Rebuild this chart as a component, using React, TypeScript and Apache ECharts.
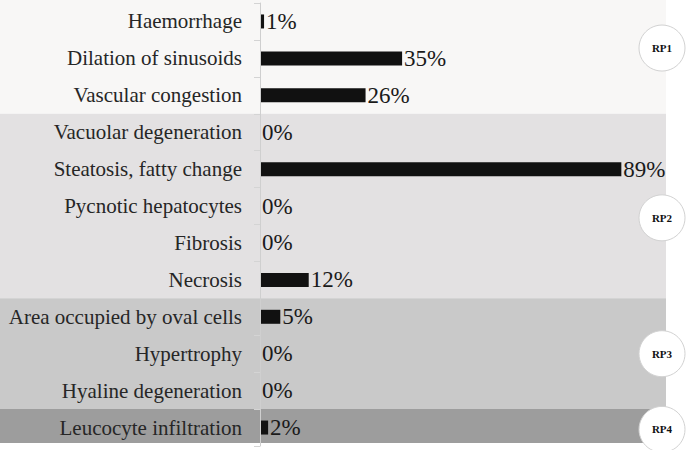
import React, { useEffect, useRef } from "react";
import * as echarts from "echarts";

const categories = [
  "Haemorrhage",
  "Dilation of sinusoids",
  "Vascular congestion",
  "Vacuolar degeneration",
  "Steatosis, fatty change",
  "Pycnotic hepatocytes",
  "Fibrosis",
  "Necrosis",
  "Area occupied by oval cells",
  "Hypertrophy",
  "Hyaline degeneration",
  "Leucocyte infiltration",
];
const values = [1, 35, 26, 0, 89, 0, 0, 12, 5, 0, 0, 2];

// groups: first category index, last category index
const groupNames = ["RP1", "RP2", "RP3", "RP4"];
const groupStart = [0, 3, 8, 11];
const groupEnd = [2, 7, 10, 11];
const groupColors = ["#f8f7f6", "#e3e1e2", "#c9c9c9", "#9d9d9d"];
// row position (in category units) where each badge sits
const badgeRow = [0.72, 5.32, 9, 11.05];

const SERIF = "Liberation Serif";

export default function App() {
  const ref = useRef<HTMLDivElement>(null);
  useEffect(() => {
    document.body.style.margin = "0";
    const chart = echarts.init(ref.current!, null, { renderer: "svg" });
    const bandData = groupNames.map((n, i) => [groupStart[i], groupEnd[i], badgeRow[i]]);
    chart.setOption({
      animation: false,
      backgroundColor: "#ffffff",
      grid: { left: 260, right: 27, top: 3, bottom: 4, containLabel: false },
      xAxis: { type: "value", min: 0, max: 100, show: false },
      yAxis: {
        type: "category",
        data: categories,
        inverse: true,
        z: 5,
        axisLine: { show: true, lineStyle: { color: "#cfcfcf", width: 1 } },
        axisTick: { show: true, length: 6, lineStyle: { color: "#d4d4d4" } },
        axisLabel: {
          margin: 18,
          fontFamily: SERIF,
          fontSize: 21,
          color: "#262626",
        },
      },
      series: [
        {
          type: "custom",
          z: 1,
          clip: false,
          silent: true,
          encode: { x: 2, y: 0 },
          data: bandData,
          renderItem: (params: any, api: any) => {
            const i = params.dataIndex;
            const s = api.value(0);
            const e = api.value(1);
            const b = api.value(2);
            const bw = api.size([0, 1])[1];
            const right = api.coord([100, 0])[0];
            let top = api.coord([0, s])[1] - bw / 2;
            let bottom = api.coord([0, e])[1] + bw / 2;
            if (i === 0) top = 0;
            if (i === groupNames.length - 1) bottom -= 3;
            const cy = api.coord([0, 0])[1] + b * bw;
            const cx = right - 4;
            return {
              type: "group",
              children: [
                {
                  type: "rect",
                  shape: { x: 0, y: top, width: right, height: bottom - top },
                  style: { fill: groupColors[i] },
                },
                {
                  type: "circle",
                  shape: { cx, cy, r: 23 },
                  style: { fill: "#ffffff", stroke: "#d2d2d2", lineWidth: 1 },
                  z2: 10,
                },
                {
                  type: "text",
                  x: cx,
                  y: cy,
                  style: {
                    text: groupNames[i],
                    fill: "#111",
                    fontFamily: SERIF,
                    fontSize: 11,
                    fontWeight: "bold",
                    align: "center",
                    verticalAlign: "middle",
                  },
                  z2: 11,
                },
              ],
            };
          },
        },
        {
          type: "bar",
          z: 2,
          data: values,
          barWidth: 14,
          itemStyle: { color: "#111111" },
          label: {
            show: true,
            position: "right",
            distance: 2,
            formatter: "{c}%",
            fontFamily: SERIF,
            fontSize: 23,
            color: "#1a1a1a",
          },
        },
      ],
    });
    return () => chart.dispose();
  }, []);
  return <div ref={ref} style={{ width: 693, height: 450 }} />;
}
